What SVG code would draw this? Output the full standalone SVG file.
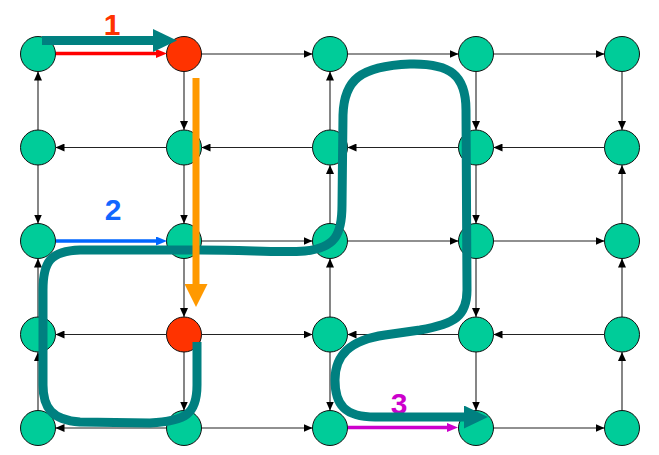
<svg xmlns="http://www.w3.org/2000/svg" width="659" height="455" viewBox="0 0 659 455">
<style>
.e{stroke:#222;stroke-width:1.1;fill:none;marker-end:url(#ah)}
.n{fill:#00CC99;stroke:#111;stroke-width:1}
.n.hot{fill:#FF3300}
.lbl{font-family:"Liberation Sans",Arial,sans-serif;font-weight:bold;font-size:30px;text-anchor:middle}
.teal{stroke:#008080;stroke-width:9;fill:none}
</style>
<defs>
<marker id="ah" markerUnits="userSpaceOnUse" markerWidth="9" markerHeight="8" refX="9" refY="4" orient="auto"><path d="M0,0 L9,4 L0,8 z" fill="#000"/></marker>
<marker id="ahR" markerUnits="userSpaceOnUse" markerWidth="11" markerHeight="9" refX="0" refY="4.5" orient="auto"><path d="M0,0 L11,4.5 L0,9 z" fill="#FF0000"/></marker>
<marker id="ahB" markerUnits="userSpaceOnUse" markerWidth="11" markerHeight="9" refX="0" refY="4.5" orient="auto"><path d="M0,0 L11,4.5 L0,9 z" fill="#0066FF"/></marker>
<marker id="ahM" markerUnits="userSpaceOnUse" markerWidth="11" markerHeight="9" refX="0" refY="4.5" orient="auto"><path d="M0,0 L11,4.5 L0,9 z" fill="#CC00CC"/></marker>
<marker id="ahT" markerUnits="userSpaceOnUse" markerWidth="24" markerHeight="23" refX="0" refY="11.5" orient="auto"><path d="M0,0 L24,11.5 L0,23 z" fill="#008080"/></marker>
<marker id="ahO" markerUnits="userSpaceOnUse" markerWidth="23" markerHeight="23" refX="0" refY="11.5" orient="auto"><path d="M0,0 L23,11.5 L0,23 z" fill="#FF9900"/></marker>
</defs>
<rect width="659" height="455" fill="#fff"/>
<g id="connectors">
<line class="e" x1="201.5" y1="54" x2="312.5" y2="54"/>
<line class="e" x1="347.5" y1="54" x2="458.5" y2="54"/>
<line class="e" x1="493.5" y1="54" x2="604.5" y2="54"/>
<line class="e" x1="166.5" y1="147.5" x2="55.5" y2="147.5"/>
<line class="e" x1="312.5" y1="147.5" x2="201.5" y2="147.5"/>
<line class="e" x1="458.5" y1="147.5" x2="347.5" y2="147.5"/>
<line class="e" x1="604.5" y1="147.5" x2="493.5" y2="147.5"/>
<line class="e" x1="201.5" y1="241" x2="312.5" y2="241"/>
<line class="e" x1="347.5" y1="241" x2="458.5" y2="241"/>
<line class="e" x1="493.5" y1="241" x2="604.5" y2="241"/>
<line class="e" x1="166.5" y1="334.5" x2="55.5" y2="334.5"/>
<line class="e" x1="201.5" y1="334.5" x2="312.5" y2="334.5"/>
<line class="e" x1="458.5" y1="334.5" x2="347.5" y2="334.5"/>
<line class="e" x1="604.5" y1="334.5" x2="493.5" y2="334.5"/>
<line class="e" x1="166.5" y1="428" x2="55.5" y2="428"/>
<line class="e" x1="201.5" y1="428" x2="312.5" y2="428"/>
<line class="e" x1="493.5" y1="428" x2="604.5" y2="428"/>
<line class="e" x1="38" y1="130" x2="38" y2="71.5"/>
<line class="e" x1="38" y1="165" x2="38" y2="223.5"/>
<line class="e" x1="38" y1="317" x2="38" y2="258.5"/>
<line class="e" x1="38" y1="410.5" x2="38" y2="352"/>
<line class="e" x1="184" y1="71.5" x2="184" y2="130"/>
<line class="e" x1="184" y1="165" x2="184" y2="223.5"/>
<line class="e" x1="184" y1="258.5" x2="184" y2="317"/>
<line class="e" x1="184" y1="352" x2="184" y2="410.5"/>
<line class="e" x1="330" y1="130" x2="330" y2="71.5"/>
<line class="e" x1="330" y1="223.5" x2="330" y2="165"/>
<line class="e" x1="330" y1="317" x2="330" y2="258.5"/>
<line class="e" x1="330" y1="352" x2="330" y2="410.5"/>
<line class="e" x1="476" y1="71.5" x2="476" y2="130"/>
<line class="e" x1="476" y1="165" x2="476" y2="223.5"/>
<line class="e" x1="476" y1="258.5" x2="476" y2="317"/>
<line class="e" x1="476" y1="352" x2="476" y2="410.5"/>
<line class="e" x1="622" y1="71.5" x2="622" y2="130"/>
<line class="e" x1="622" y1="223.5" x2="622" y2="165"/>
<line class="e" x1="622" y1="317" x2="622" y2="258.5"/>
<line class="e" x1="622" y1="410.5" x2="622" y2="352"/>
</g>
<g id="n00"><circle class="n" cx="38" cy="54" r="17.5"/></g>
<g id="n10"><circle class="n hot" cx="184" cy="54" r="17.5"/></g>
<g id="n20"><circle class="n" cx="330" cy="54" r="17.5"/></g>
<g id="n30"><circle class="n" cx="476" cy="54" r="17.5"/></g>
<g id="n40"><circle class="n" cx="622" cy="54" r="17.5"/></g>
<g id="n01"><circle class="n" cx="38" cy="147.5" r="17.5"/></g>
<g id="n11"><circle class="n" cx="184" cy="147.5" r="17.5"/></g>
<g id="n21"><circle class="n" cx="330" cy="147.5" r="17.5"/></g>
<g id="n31"><circle class="n" cx="476" cy="147.5" r="17.5"/></g>
<g id="n41"><circle class="n" cx="622" cy="147.5" r="17.5"/></g>
<g id="n02"><circle class="n" cx="38" cy="241" r="17.5"/></g>
<g id="n12"><circle class="n" cx="184" cy="241" r="17.5"/></g>
<g id="n22"><circle class="n" cx="330" cy="241" r="17.5"/></g>
<g id="n32"><circle class="n" cx="476" cy="241" r="17.5"/></g>
<g id="n42"><circle class="n" cx="622" cy="241" r="17.5"/></g>
<g id="n03"><circle class="n" cx="38" cy="334.5" r="17.5"/></g>
<g id="n13"><circle class="n hot" cx="184" cy="334.5" r="17.5"/></g>
<g id="n23"><circle class="n" cx="330" cy="334.5" r="17.5"/></g>
<g id="n33"><circle class="n" cx="476" cy="334.5" r="17.5"/></g>
<g id="n43"><circle class="n" cx="622" cy="334.5" r="17.5"/></g>
<g id="n04"><circle class="n" cx="38" cy="428" r="17.5"/></g>
<g id="n14"><circle class="n" cx="184" cy="428" r="17.5"/></g>
<g id="n24"><circle class="n" cx="330" cy="428" r="17.5"/></g>
<g id="n34"><circle class="n" cx="476" cy="428" r="17.5"/></g>
<g id="n44"><circle class="n" cx="622" cy="428" r="17.5"/></g>
<g id="labels">
<text class="lbl" x="112" y="35" fill="#FF3300">1</text>
<text class="lbl" x="113" y="220" fill="#1166FF">2</text>
<text class="lbl" x="399" y="414" fill="#CC00CC">3</text>
</g>
<g id="paths">
<line x1="56" y1="53.5" x2="156" y2="53.5" stroke="#FF0000" stroke-width="3.5" marker-end="url(#ahR)"/>
<line x1="56" y1="241" x2="156" y2="241" stroke="#0066FF" stroke-width="3.5" marker-end="url(#ahB)"/>
<line x1="348" y1="427.5" x2="447" y2="427.5" stroke="#CC00CC" stroke-width="3.5" marker-end="url(#ahM)"/>
<path class="teal" d="M197 342 L197 385 C197 414 186 421 150 423 L80 422 C52 420 43 408 43 385 L43 290 C43 262 50 251 80 250 L200 250 C250 250 280 253 305 251 C335 248 342 235 342 205 L343 115 C344 80 360 66 410 64 C450 63 466 75 466 110 L467 290 C467 316 455 324 420 330 L385 335 C350 340 335 355 335 380 C335 405 345 417 375 417 L464 417" marker-end="url(#ahT)"/>
<line class="teal" x1="42" y1="40.5" x2="153" y2="40.5" marker-end="url(#ahT)"/>
<line x1="196" y1="78" x2="196" y2="284" stroke="#FF9900" stroke-width="7" marker-end="url(#ahO)"/>
</g>
</svg>
